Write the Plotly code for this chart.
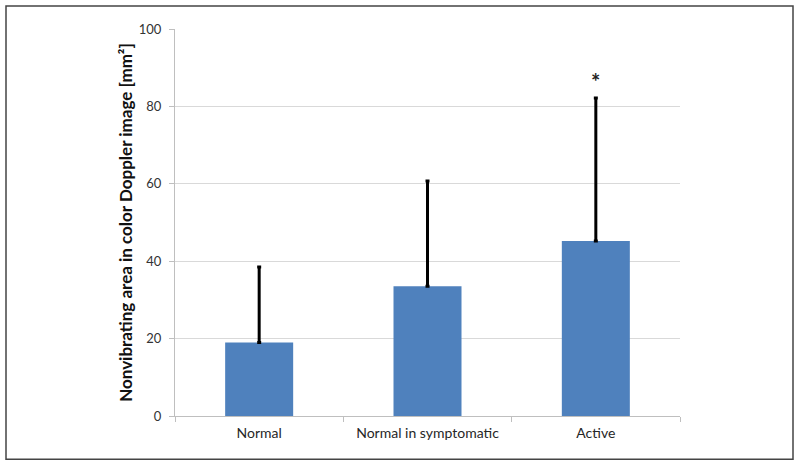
import plotly.graph_objects as go

categories = ["Normal", "Normal in symptomatic", "Active"]
means = [19.0, 33.5, 45.2]
sd_plus = [19.5, 27.2, 37.0]
y_ticks = [0, 20, 40, 60, 80, 100]
star_label = "*"
star_y = 86.5

FONT = "Lato, Open Sans, sans-serif"
BAR = "#4f81bd"

fig = go.Figure()
fig.add_trace(go.Bar(
    x=categories, y=means, width=0.404,
    marker=dict(color=BAR, line=dict(width=0)),
    error_y=dict(type="data", symmetric=False, array=sd_plus,
                 arrayminus=[0] * len(means), color="black",
                 thickness=3, width=2),
    showlegend=False,
))
fig.add_annotation(x=categories[2], y=star_y, text="<b>" + star_label + "</b>",
                   showarrow=False, font=dict(size=22, color="#222", family=FONT))

L, R, T, B = 175, 680, 29, 415.7
fig.add_shape(type="rect", xref="paper", yref="paper",
              x0=(6 - L) / (R - L), x1=(793 - L) / (R - L),
              y0=(B - 459) / (B - T), y1=(B - 6) / (B - T),
              line=dict(color="#444", width=1.5), fillcolor="rgba(0,0,0,0)", layer="below")

fig.update_layout(
    width=800, height=466,
    margin=dict(l=L, r=800 - R, t=T, b=466 - B, autoexpand=False),
    paper_bgcolor="white", plot_bgcolor="white",
    font=dict(family=FONT, size=13, color="#222"),
    bargap=0.596,
)
fig.update_xaxes(
    showline=True, linecolor="#bfbfbf", linewidth=1,
    ticks="outside", tickson="boundaries", ticklen=5, tickcolor="#bfbfbf",
    tickfont=dict(size=14, color="#262626"), showgrid=False,
    ticklabelstandoff=4,
)
fig.update_yaxes(
    range=[0, 100], tickvals=y_ticks,
    showline=True, linecolor="#bfbfbf", linewidth=1,
    ticks="outside", ticklen=5, tickcolor="#bfbfbf",
    showgrid=True, gridcolor="#d9d9d9", gridwidth=1, zeroline=False,
    tickfont=dict(size=13, color="#333"),
    ticklabelstandoff=5,
    title=dict(text="<b>Nonvibrating area in color Doppler image [mm²]</b>",
               font=dict(size=17, color="#111"), standoff=1),
)
fig.write_html("out.html", config={"displayModeBar": False},
               post_script="document.body.style.margin='0px';")
